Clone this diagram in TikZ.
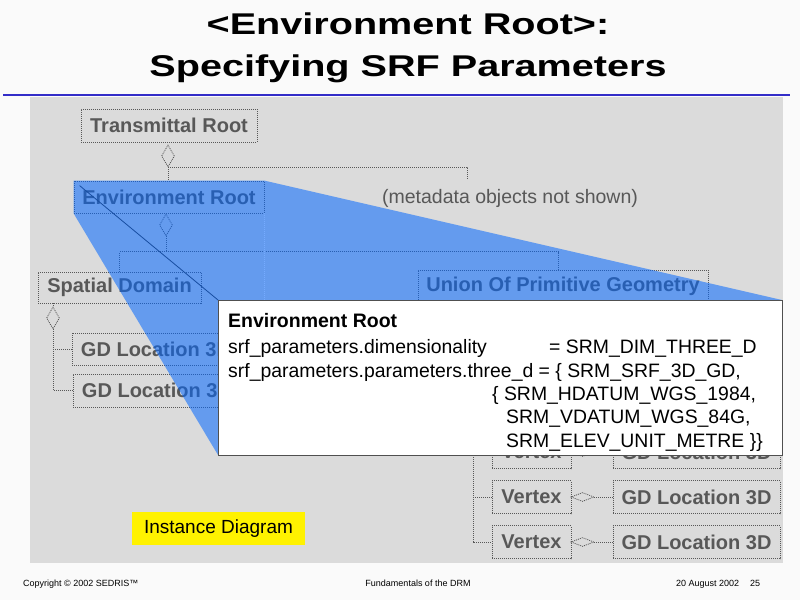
\documentclass[tikz,border=0pt]{standalone}
\usepackage{fontspec}
\setmainfont{Liberation Sans}
\usetikzlibrary{shapes.geometric}
\definecolor{bgc}{RGB}{250,250,250}
\definecolor{panel}{RGB}{219,219,219}
\definecolor{boxtxt}{RGB}{88,88,88}
\definecolor{rulec}{RGB}{51,45,200}
\definecolor{wedge}{RGB}{0,101,255}
\definecolor{callborder}{RGB}{80,80,80}
\begin{document}
\begin{tikzpicture}[x=1pt,y=-1pt,
  obj/.style={draw=boxtxt, dash pattern=on 1pt off 1pt, line width=0.8pt, text=boxtxt,
    font=\fontsize{20}{22}\selectfont\bfseries, inner sep=0pt, anchor=center},
  conn/.style={draw=boxtxt, dash pattern=on 1pt off 1pt, line width=0.8pt},
  vdia/.style={diamond, draw=boxtxt, dash pattern=on 1pt off 1pt, line width=0.8pt,
    minimum width=13pt, minimum height=22pt, inner sep=0pt},
  hdia/.style={diamond, draw=boxtxt, dash pattern=on 1pt off 1pt, line width=0.8pt,
    minimum width=23pt, minimum height=9pt, inner sep=0pt},
  calltxt/.style={anchor=base west, inner sep=0pt, font=\fontsize{19.4}{22}\selectfont, text=black},
  foot/.style={anchor=base west, inner sep=0pt, font=\fontsize{9}{10}\selectfont, text=black},
  ]
\useasboundingbox (0,0) rectangle (800,600);
\fill[bgc] (0,0) rectangle (800,600);

% title
\node[anchor=base, inner sep=0pt, font=\fontsize{30}{36}\selectfont\bfseries] (t1) at (408,34)
  {\scalebox{1.32}[1]{<Environment Root>:}};
\node[anchor=base, inner sep=0pt, font=\fontsize{30}{36}\selectfont\bfseries] (t2) at (408,76)
  {\scalebox{1.32}[1]{Specifying SRF Parameters}};
\draw[rulec, line width=2pt] (3,95) -- (790,95);

% panel
\fill[panel] (30,97) rectangle (783,563);

% boxes
\node[obj, minimum width=176pt, minimum height=33pt] (TR) at (169,125.5) {Transmittal Root};
\node[obj, minimum width=190pt, minimum height=32pt] (ER) at (169,197) {Environment Root};
\node[inner sep=0pt, text=boxtxt, font=\fontsize{19.5}{22}\selectfont] (meta) at (510,198) {(metadata objects not shown)};
\node[obj, minimum width=163pt, minimum height=31pt] (SD) at (119.5,287.5) {Spatial Domain};
\node[obj, minimum width=290pt, minimum height=33pt] (UPG) at (563,286.5) {Union Of Primitive Geometry};
\node[obj, minimum width=168pt, minimum height=32pt] (GD1) at (156,349) {GD Location 3D};
\node[obj, minimum width=168pt, minimum height=33pt] (GD2) at (157,390.5) {GD Location 3D};

\foreach \i/\y in {1/452,2/497,3/542}{
  \node[obj, minimum width=79pt, minimum height=33pt] (V\i) at (531.5,\y) {Vertex};
  \node[obj, minimum width=167pt, minimum height=33pt] (G\i) at (696.5,\y) {GD Location 3D};
  \node[hdia] (HD\i) at (582.5,\y) {};
  \draw[conn] (HD\i.east) -- (G\i.west);
}

% diamonds
\node[vdia] (TRd) at (168,156) {};
\node[vdia] (ERd) at (166,225) {};
\node[vdia] (SDd) at (53,318) {};

% connectors
\coordinate (metaend) at (467,179);
\draw[conn] (TRd.south) -- (TRd.south |- ER.north);
\draw[conn] (TRd.south) -| (metaend);
\coordinate (hub) at (166,252);
\draw[conn] (ERd.south) -- (hub);
\draw[conn] (SD.north) -- ++(0,-20) -| ([xshift=-5pt]UPG.north);
\draw[conn] (SD.south -| SDd.north) -- (SDd.north);
\draw[conn] (SDd.south) |- (GD2.west);
\draw[conn] (SDd.south |- GD1.west) -- (GD1.west);
\coordinate (ut) at ([xshift=-90pt]UPG.south);
\draw[conn] (ut) |- (V3.west);
\draw[conn] (ut |- V1.west) -- (V1.west);
\draw[conn] (ut |- V2.west) -- (V2.west);

% callout geometry
\coordinate (cNW) at (218,300);
\coordinate (cSE) at (782,455);

% diagonal pointer line and faint edge
\draw[black!80, line width=0.8pt] ([shift={(6,5)}]ER.north west) -- (cNW);
\draw[white, dash pattern=on 1pt off 1pt, line width=0.8pt] (ER.south east) -- (ER.south east |- cNW);

% translucent blue wedge
\fill[wedge, fill opacity=0.54] (ER.north west) -- (ER.north east) -- (cNW -| cSE) -- (cSE) -- (cSE -| cNW) -- (ER.south west) -- cycle;

% callout box
\draw[fill=white, draw=callborder, line width=1pt] (cNW) rectangle (cSE);
\node[calltxt, font=\fontsize{19.5}{22}\selectfont\bfseries] (ct) at (228,327) {Environment Root};
\node[calltxt] (c1a) at (228,353) {srf\_parameters.dimensionality};
\node[calltxt] (c1b) at (549,353) {= SRM\_DIM\_THREE\_D};
\node[calltxt] (c2) at (228,377) {srf\_parameters.parameters.three\_d = \{ SRM\_SRF\_3D\_GD,};
\node[calltxt] (c3) at (492,400) {\{ SRM\_HDATUM\_WGS\_1984,};
\node[calltxt] (c4) at (506,423) {SRM\_VDATUM\_WGS\_84G,};
\node[calltxt] (c5) at (506,447) {SRM\_ELEV\_UNIT\_METRE \}\}};

% instance diagram label
\node[fill=yellow, minimum width=173pt, minimum height=33pt, inner sep=0pt,
  font=\fontsize{19}{22}\selectfont] (inst) at (218.5,528.5) {Instance Diagram};

% footer
\node[foot] (f1) at (23,586) {Copyright © 2002 SEDRIS™};
\node[foot, anchor=base] (f2) at (418,586) {Fundamentals of the DRM};
\node[foot] (f3) at (676,586) {20 August 2002};
\node[foot] (f4) at (750,586) {25};
\end{tikzpicture}
\end{document}
